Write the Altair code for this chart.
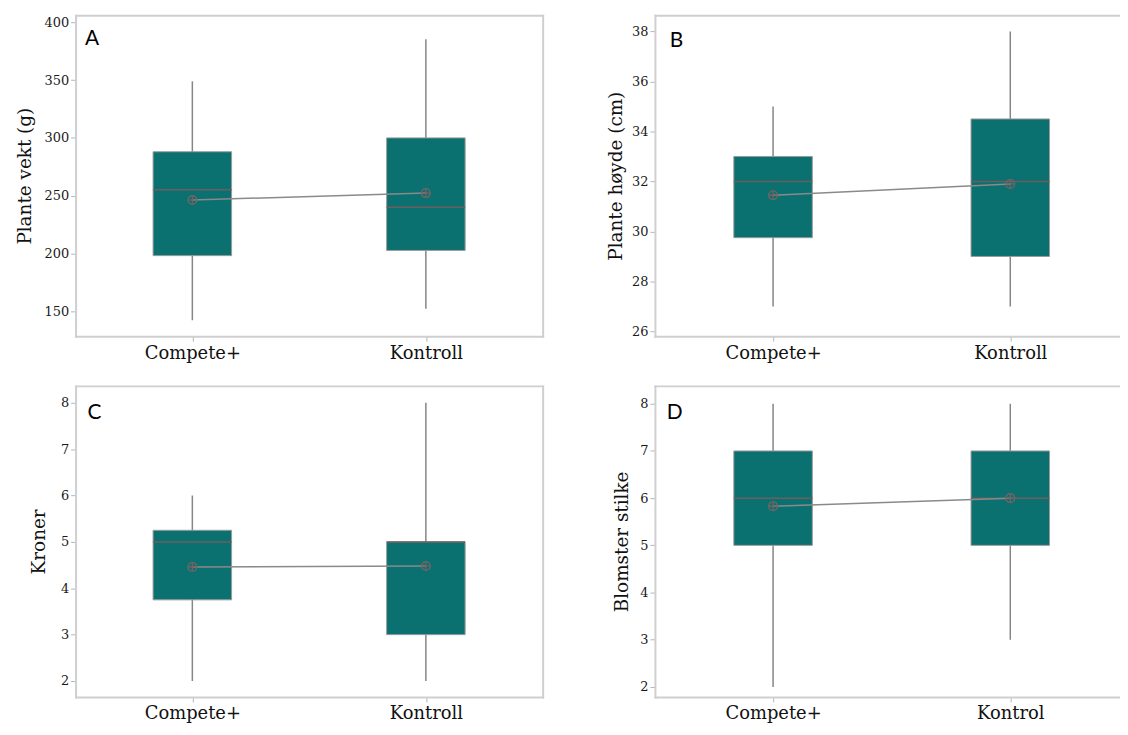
import altair as alt
import pandas as pd

# ---------------- data ----------------
groups = ["Compete+", "Kontroll"]
groups_d = ["Compete+", "Kontrol"]
panel_letters = ["A", "B", "C", "D"]
y_titles = ["Plante vekt (g)", "Plante høyde (cm)", "Kroner", "Blomster stilke"]

a_low = [142, 152]
a_q1 = [198, 202.5]
a_med = [255, 240]
a_q3 = [288, 300]
a_high = [349, 385.5]
a_mean = [246.2, 252.2]
a_ticks = [150, 200, 250, 300, 350, 400]

b_low = [27, 27]
b_q1 = [29.75, 29.0]
b_med = [32, 32]
b_q3 = [33, 34.5]
b_high = [35, 38]
b_mean = [31.45, 31.9]
b_ticks = [26, 28, 30, 32, 34, 36, 38]

c_low = [2, 2]
c_q1 = [3.75, 3.0]
c_med = [5, 5]
c_q3 = [5.25, 5.0]
c_high = [6, 8]
c_mean = [4.46, 4.48]
c_ticks = [2, 3, 4, 5, 6, 7, 8]

d_low = [2, 3]
d_q1 = [5, 5]
d_med = [6, 6]
d_q3 = [7, 7]
d_high = [8, 8]
d_mean = [5.83, 6.0]
d_ticks = [2, 3, 4, 5, 6, 7, 8]

# ---------------- style ----------------
SERIF = "DejaVu Serif"
TEAL = "#0b7070"
BOXSTROKE = "#9a9a9a"
WHISK = "#858585"
MEDIAN = "#6c5e5e"
MEANLINE = "#8a8a8a"
MEANC = "#7d6262"
FRAME = "#cfcfcf"
TICK = "#b5b5b5"


def panel(names, low, q1, med, q3, high, mean, letter, ytitle, ydomain, yticks,
          width, height, right_border, xpad, xalign, title_x, lx, ly):
    df = pd.DataFrame({"group": names, "low": low, "q1": q1, "med": med,
                       "q3": q3, "high": high, "mean": mean})
    xscale = alt.Scale(type="point", domain=names, padding=xpad, align=xalign)
    yscale = alt.Scale(domain=ydomain, nice=False, zero=False)
    x_axis = alt.Axis(orient="bottom", labelFont=SERIF, labelFontSize=18, labelColor="#111",
                      labelAngle=0, labelPadding=3, tickSize=5, tickColor=TICK, tickWidth=1,
                      domainColor=FRAME, domainWidth=2, domainCap="square", title=None, grid=False)
    y_axis = alt.Axis(orient="left", values=yticks, labelFont=SERIF, labelFontSize=13,
                      labelColor="#1a1a1a", labelPadding=2, tickSize=5, tickColor=TICK, tickWidth=1,
                      domainColor=FRAME, domainWidth=2, domainCap="square", grid=False,
                      title=ytitle, titleFont=SERIF, titleFontSize=18.5, titleFontWeight="normal",
                      titleColor="#111", titleAngle=270, titleBaseline="alphabetic",
                      titleAlign="center", titleX=title_x, titleY=height / 2)
    top_axis = alt.Axis(orient="top", labels=False, ticks=False, domainColor=FRAME,
                        domainWidth=2, domainCap="square", title=None, grid=False)
    if right_border:
        right_axis = alt.Axis(orient="right", labels=False, ticks=False, domainColor=FRAME,
                              domainWidth=2, domainCap="square", title=None, grid=False)
    else:
        right_axis = None

    base = alt.Chart(df)
    whisk = base.mark_rule(color=WHISK, strokeWidth=1.5).encode(
        x=alt.X("group:N", scale=xscale, axis=x_axis),
        y=alt.Y("low:Q", scale=yscale, axis=y_axis),
        y2="high:Q",
    )
    box = base.mark_bar(size=79, color=TEAL, stroke=BOXSTROKE, strokeWidth=1).encode(
        x=alt.X("group:N", scale=xscale, axis=None),
        y=alt.Y("q1:Q", scale=yscale, axis=None),
        y2="q3:Q",
    )
    median = base.mark_tick(size=79, thickness=1.5, color=MEDIAN, opacity=1).encode(
        x=alt.X("group:N", scale=xscale, axis=None),
        y=alt.Y("med:Q", scale=yscale, axis=None),
    )
    line = base.mark_line(color=MEANLINE, strokeWidth=1.5).encode(
        x=alt.X("group:N", scale=xscale, axis=top_axis),
        y=alt.Y("mean:Q", scale=yscale, axis=right_axis),
    )
    ring = base.mark_point(shape="circle", size=80, filled=False, stroke=MEANC,
                           strokeWidth=1.2, opacity=1).encode(
        x=alt.X("group:N", scale=xscale, axis=None),
        y=alt.Y("mean:Q", scale=yscale, axis=None),
    )
    cross = base.mark_point(shape="M-1,0L1,0M0,-1L0,1", size=80, filled=False, stroke=MEANC,
                            strokeWidth=1.2, opacity=1).encode(
        x=alt.X("group:N", scale=xscale, axis=None),
        y=alt.Y("mean:Q", scale=yscale, axis=None),
    )
    lab = alt.Chart(pd.DataFrame({"t": [letter]})).mark_text(
        align="left", baseline="top", font="Lato", fontSize=21, color="#000"
    ).encode(x=alt.value(lx), y=alt.value(ly), text="t:N")

    return alt.layer(whisk, box, median, line, ring, cross, lab).resolve_axis(
        x="independent", y="independent"
    ).properties(width=width, height=height)


pA = panel(groups, a_low, a_q1, a_med, a_q3, a_high, a_mean, panel_letters[0], y_titles[0],
           [128.2, 406.3], a_ticks, 470, 323, True, 0.5, 0.5, -45, 9.5, 12.5)
pB = panel(groups, b_low, b_q1, b_med, b_q3, b_high, b_mean, panel_letters[1], y_titles[1],
           [25.81, 38.65], b_ticks, 468, 323, False, 0.4803, 0.5185, -34, 15, 14.5)
pC = panel(groups, c_low, c_q1, c_med, c_q3, c_high, c_mean, panel_letters[2], y_titles[2],
           [1.657, 8.364], c_ticks, 470, 313, True, 0.5, 0.5, -31, 12, 16.5)
pD = panel(groups_d, d_low, d_q1, d_med, d_q3, d_high, d_mean, panel_letters[3], y_titles[3],
           [1.789, 8.379], d_ticks, 468, 313, False, 0.4803, 0.5185, -28, 12, 16.5)

chart = alt.concat(
    pA, pB, pC, pD, columns=2, spacing={"row": 50, "column": 113}, bounds="flush"
).resolve_scale(x="independent", y="independent").properties(
    padding={"left": 8, "top": 5, "right": 0, "bottom": 0},
    background="white",
).configure_view(stroke=None)

chart.save("out.html", embed_options={"renderer": "svg", "actions": False})
